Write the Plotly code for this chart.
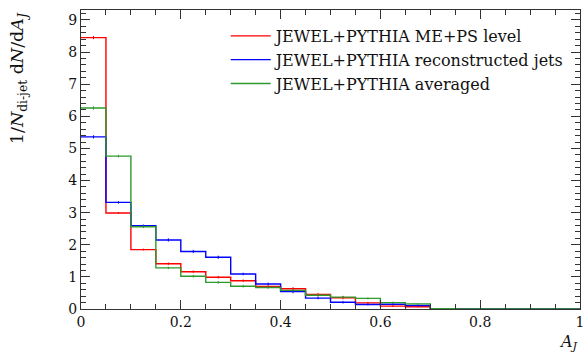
import plotly.graph_objects as go

edges = [round(0.05 * i, 2) for i in range(21)]
centers = [round(0.025 + 0.05 * i, 3) for i in range(20)]

red_vals = [8.45, 2.99, 1.85, 1.41, 1.16, 0.99, 0.88, 0.70, 0.63, 0.45,
            0.35, 0.19, 0.09, 0.07, 0.01, 0, 0, 0, 0, 0]
blue_vals = [5.36, 3.32, 2.59, 2.15, 1.79, 1.61, 1.09, 0.78, 0.54, 0.34,
             0.21, 0.14, 0.15, 0.11, 0.01, 0, 0, 0, 0, 0]
green_vals = [6.26, 4.76, 2.56, 1.28, 1.02, 0.83, 0.71, 0.67, 0.58, 0.43,
              0.37, 0.33, 0.20, 0.16, 0.01, 0, 0, 0, 0, 0]
red_err = [0.05, 0.03, 0.03, 0.04, 0.04, 0.04, 0.04, 0.04, 0.05, 0.05,
           0.05, 0.03, 0.03, 0.02, 0, 0, 0, 0, 0, 0]
blue_err = [0.05, 0.04, 0.04, 0.05, 0.05, 0.05, 0.04, 0.04, 0.05, 0.04,
            0.04, 0.03, 0.03, 0.02, 0, 0, 0, 0, 0, 0]
green_err = [0.05, 0.04, 0.04, 0.04, 0.04, 0.04, 0.04, 0.04, 0.04, 0.04,
             0.04, 0.03, 0.03, 0.02, 0, 0, 0, 0, 0, 0]

series = [
    ("JEWEL+PYTHIA ME+PS level", red_vals, red_err, "#ff0000"),
    ("JEWEL+PYTHIA reconstructed jets", blue_vals, blue_err, "#0000ff"),
    ("JEWEL+PYTHIA averaged", green_vals, green_err, "#2e9a2e"),
]

FONT = "DejaVu Serif"
fig = go.Figure()
for name, vals, errs, col in series:
    fig.add_trace(go.Scatter(
        x=edges, y=vals + [vals[-1]], mode="lines", line_shape="hv",
        line=dict(color=col, width=1.4), name=name, showlegend=True))
for name, vals, errs, col in series:
    fig.add_trace(go.Scatter(
        x=centers, y=vals, mode="markers", marker=dict(size=0.1, color=col),
        error_y=dict(type="data", array=errs, color=col, thickness=1, width=0),
        showlegend=False, hoverinfo="skip"))

axis_common = dict(
    showgrid=False, zeroline=False, showline=True, linecolor="#333333",
    linewidth=1, mirror="ticks", ticks="inside", tickcolor="#333333",
    tickfont=dict(family=FONT, size=14, color="#111111"),
    ticklabeloverflow="allow", automargin=False,
)
fig.update_xaxes(
    range=[0, 1], tickvals=[0, 0.2, 0.4, 0.6, 0.8, 1],
    ticktext=["0", "0.2", "0.4", "0.6", "0.8", "1"], ticklen=9,
    minor=dict(dtick=0.05, tick0=0, ticklen=5, ticks="inside", tickcolor="#333333"),
    **axis_common)
fig.update_yaxes(
    range=[0, 9.31], tickvals=list(range(10)), ticklen=9,
    minor=dict(dtick=0.2, tick0=0, ticklen=5, ticks="inside", tickcolor="#333333"),
    **axis_common)

fig.add_annotation(text="1/<i>N</i><sub>di-jet</sub> d<i>N</i>/d<i>A</i><sub><i>J</i></sub>",
                   xref="paper", yref="paper", x=-0.126, y=1.0, xanchor="center",
                   yanchor="top", textangle=-90, showarrow=False,
                   font=dict(family=FONT, size=17.5, color="#111111"))
fig.add_annotation(text="<i>A</i><sub><i>J</i></sub>", xref="paper", yref="paper",
                   x=1.0, y=-0.07, xanchor="right", yanchor="top", showarrow=False,
                   font=dict(family=FONT, size=16, color="#111111"))

fig.update_layout(
    width=583, height=355, plot_bgcolor="white", paper_bgcolor="white",
    margin=dict(l=81, r=3, t=10, b=46),
    legend=dict(x=0.29, y=0.97, xanchor="left", yanchor="top",
                bgcolor="rgba(0,0,0,0)", font=dict(family=FONT, size=16, color="#111111"),
                itemwidth=40, tracegroupgap=0),
)
fig.write_html("out.html")
